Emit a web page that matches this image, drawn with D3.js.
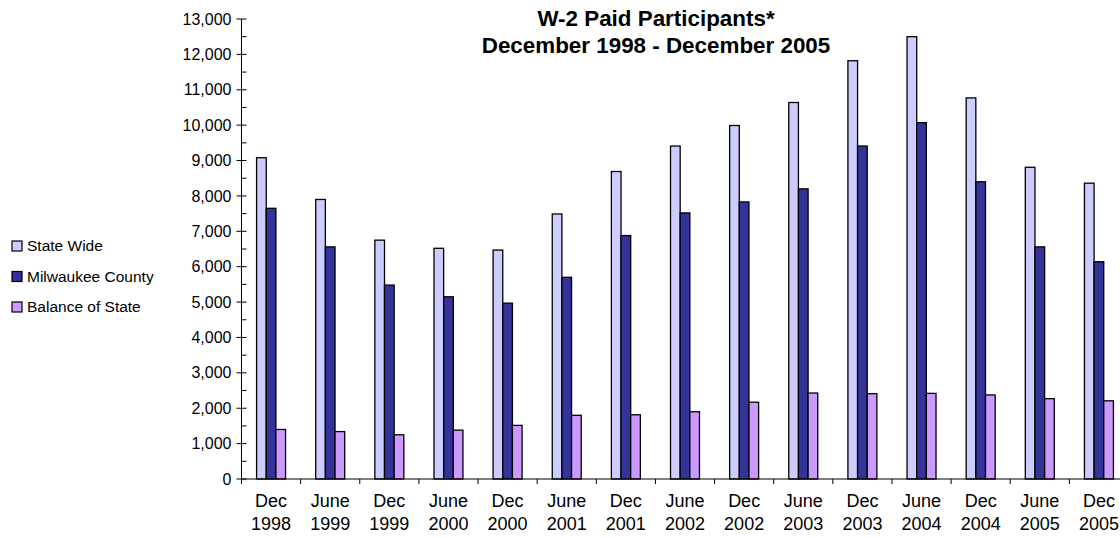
<!DOCTYPE html>
<html><head><meta charset="utf-8">
<script src="https://cdn.jsdelivr.net/npm/d3@7"></script>
<style>body{margin:0;background:#fff;overflow:hidden}svg{display:block;font-family:"Liberation Sans",Arial,sans-serif}</style>
</head><body>
<svg id="c" width="1120" height="538"></svg>
<script>
const categories = [["Dec","1998"],["June","1999"],["Dec","1999"],["June","2000"],["Dec","2000"],["June","2001"],["Dec","2001"],["June","2002"],["Dec","2002"],["June","2003"],["Dec","2003"],["June","2004"],["Dec","2004"],["June","2005"],["Dec","2005"]];
const seriesNames = ["State Wide","Milwaukee County","Balance of State"];
const stateWide = [9080,7900,6750,6520,6470,7490,8690,9410,9990,10640,11820,12500,10770,8810,8360];
const milwaukee = [7650,6560,5480,5150,4970,5700,6880,7520,7830,8200,9410,10070,8400,6560,6140];
const balance = [1400,1340,1250,1380,1515,1800,1815,1900,2170,2430,2410,2420,2375,2270,2210];
const colors = ["#CCCCFF","#333399","#CC99FF"];
const yTicks = d3.range(0,13001,1000);
const title = ["W-2 Paid Participants*","December 1998 - December 2005"];

const svg = d3.select("#c");
const pL = 241.5, pR = 1128.5, pT = 19, pB = 479;
const keys = categories.map((c,i)=>i);
const x = d3.scaleBand().domain(keys).range([pL,pR]).paddingInner(0).paddingOuter(0);
const y = d3.scaleLinear().domain([0,13000]).range([pB,pT]);
const groupW = x.bandwidth()*0.49;
const x1 = d3.scaleBand().domain([0,1,2]).range([(x.bandwidth()-groupW)/2,(x.bandwidth()+groupW)/2]);
const all = [stateWide,milwaukee,balance];

// bars
all.forEach((vals,s)=>{
  svg.append("g").selectAll("rect").data(vals).join("rect")
    .attr("x",(d,i)=>x(i)+x1(s))
    .attr("width",x1.bandwidth())
    .attr("y",d=>y(d))
    .attr("height",d=>pB-y(d))
    .attr("fill",colors[s])
    .attr("stroke","#000").attr("stroke-width",1.3);
});

// y axis
const ya = svg.append("g").attr("transform",`translate(${pL},0)`);
ya.append("line").attr("y1",pT).attr("y2",pB).attr("stroke","#000");
ya.selectAll("line.maj").data(yTicks).join("line").attr("class","maj")
  .attr("x1",-5).attr("x2",5).attr("y1",d=>y(d)).attr("y2",d=>y(d)).attr("stroke","#000");
ya.selectAll("line.min").data(d3.range(500,13000,1000)).join("line").attr("class","min")
  .attr("x1",0).attr("x2",5).attr("y1",d=>y(d)).attr("y2",d=>y(d)).attr("stroke","#000");
ya.selectAll("text").data(yTicks).join("text")
  .attr("x",-10).attr("y",d=>y(d)).attr("dy","0.35em").attr("text-anchor","end")
  .attr("font-size",16).attr("fill","#000").text(d=>d3.format(",")(d));

// x axis
const xa = svg.append("g");
xa.append("line").attr("x1",pL).attr("x2",pR).attr("y1",pB).attr("y2",pB).attr("stroke","#000");
xa.selectAll("line.t").data(d3.range(categories.length+1)).join("line").attr("class","t")
  .attr("x1",d=>pL+d*x.step()).attr("x2",d=>pL+d*x.step())
  .attr("y1",pB).attr("y2",pB+5).attr("stroke","#000");
const lab = xa.selectAll("text").data(categories).join("text")
  .attr("text-anchor","middle").attr("font-size",18).attr("fill","#000");
lab.append("tspan").attr("x",(d,i)=>x(i)+x.bandwidth()/2).attr("y",507).text(d=>d[0]);
lab.append("tspan").attr("x",(d,i)=>x(i)+x.bandwidth()/2).attr("y",530).text(d=>d[1]);

// title
svg.append("g").selectAll("text").data(title).join("text")
  .attr("x",656).attr("y",(d,i)=>26+i*27).attr("text-anchor","middle")
  .attr("font-size",22.4).attr("font-weight","bold").attr("fill","#000").text(d=>d);

// legend
const lg = svg.append("g").selectAll("g").data(seriesNames).join("g")
  .attr("transform",(d,i)=>`translate(12,${246+i*30.5})`);
lg.append("rect").attr("x",0).attr("y",-5).attr("width",10).attr("height",10)
  .attr("fill",(d,i)=>colors[i]).attr("stroke","#000").attr("stroke-width",1.2);
lg.append("text").attr("x",15).attr("y",0).attr("dy","0.35em").attr("font-size",15.5).attr("fill","#000").text(d=>d);
</script>
</body></html>
